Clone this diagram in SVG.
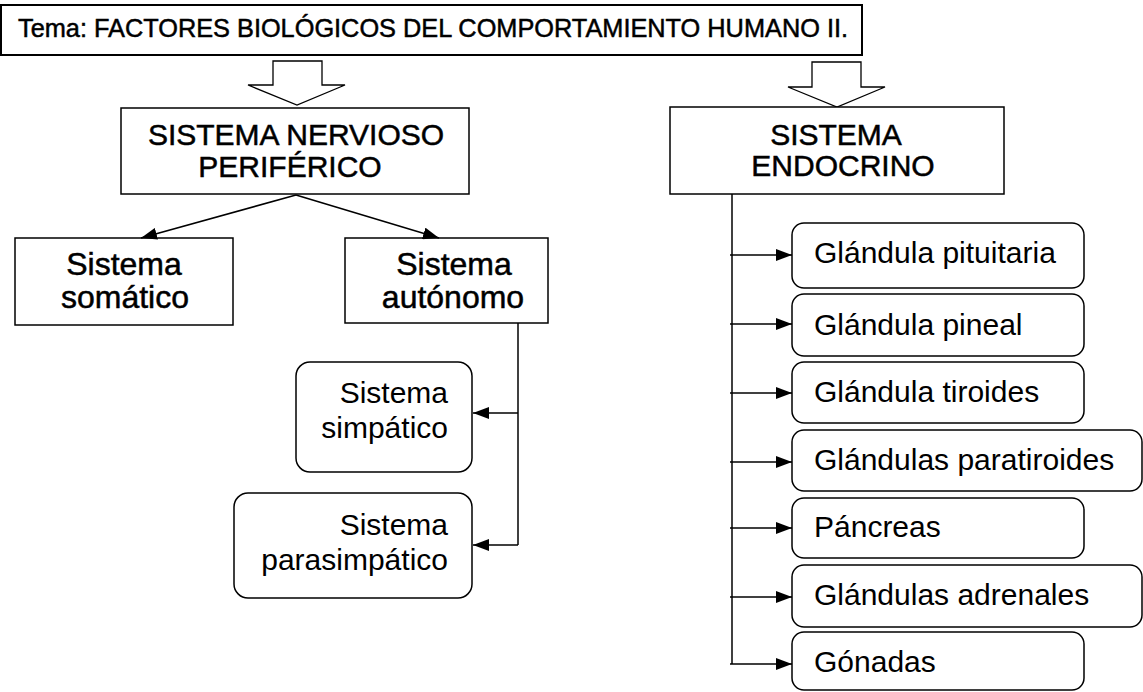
<svg xmlns="http://www.w3.org/2000/svg" width="1143" height="692" viewBox="0 0 1143 692">
<style>
  .box{fill:#fff;stroke:#000;stroke-width:1.5}
  .rbox{fill:#fff;stroke:#000;stroke-width:1.5}
  .t{font-family:"Liberation Sans",Arial,sans-serif;fill:#000}
  .heavy{stroke:#000;stroke-width:0.5}
  .c{text-anchor:middle}
  .e{text-anchor:end}
  .con{fill:none;stroke:#000;stroke-width:1.5}
  .blk{fill:#fff;stroke:#000;stroke-width:1.3}
</style>
<defs>
  <marker id="ah" markerUnits="userSpaceOnUse" markerWidth="16" markerHeight="12" refX="16" refY="6" orient="auto">
    <path d="M0,0 L16,6 L0,12 z" fill="#000"/>
  </marker>
</defs>
<rect width="1143" height="692" fill="#fff"/>

<g id="titulo">
  <rect x="1" y="5" width="861" height="50" fill="#fff" stroke="#000" stroke-width="2"/>
  <text class="t heavy" x="18" y="37" font-size="25.5" textLength="830" lengthAdjust="spacingAndGlyphs">Tema: FACTORES BIOLÓGICOS DEL COMPORTAMIENTO HUMANO II.</text>
</g>

<g id="flecha-bloque-1">
  <polygon class="blk" points="273,61 322,61 322,85 345,85 297,105 248,85 273,85"/>
</g>
<g id="flecha-bloque-2">
  <polygon class="blk" points="812,62 861,62 861,87 885,87 837,107 788,87 812,87"/>
</g>

<g id="snp">
  <rect class="box" x="121" y="108" width="348" height="86"/>
  <text class="t heavy c" x="296" y="145" font-size="30">SISTEMA NERVIOSO</text>
  <text class="t heavy c" x="290" y="177" font-size="30">PERIFÉRICO</text>
</g>

<g id="se">
  <rect class="box" x="670" y="107" width="334" height="87"/>
  <text class="t heavy c" x="836" y="145" font-size="30">SISTEMA</text>
  <text class="t heavy c" x="843" y="176" font-size="30">ENDOCRINO</text>
</g>

<g id="somatico">
  <rect class="box" x="15" y="238" width="218" height="87"/>
  <text class="t heavy c" x="124" y="275" font-size="32">Sistema</text>
  <text class="t heavy c" x="125" y="308" font-size="32">somático</text>
</g>

<g id="autonomo">
  <rect class="box" x="345" y="238" width="203" height="85"/>
  <text class="t heavy c" x="454" y="275" font-size="32">Sistema</text>
  <text class="t heavy c" x="453" y="308" font-size="32">autónomo</text>
</g>

<g id="simpatico">
  <rect class="rbox" x="296" y="362" width="176" height="110" rx="14" ry="14"/>
  <text class="t e" x="448" y="403" font-size="30">Sistema</text>
  <text class="t e" x="448" y="438" font-size="30">simpático</text>
</g>

<g id="parasimpatico">
  <rect class="rbox" x="234" y="493" width="238" height="105" rx="14" ry="14"/>
  <text class="t e" x="448" y="535" font-size="30">Sistema</text>
  <text class="t e" x="448" y="570" font-size="30">parasimpático</text>
</g>

<g id="pituitaria">
  <rect class="rbox" x="792" y="223" width="292" height="65" rx="12" ry="12"/>
  <text class="t" x="814" y="263" font-size="30">Glándula pituitaria</text>
</g>
<g id="pineal">
  <rect class="rbox" x="792" y="294" width="292" height="62" rx="12" ry="12"/>
  <text class="t" x="814" y="335" font-size="30">Glándula pineal</text>
</g>
<g id="tiroides">
  <rect class="rbox" x="792" y="362" width="292" height="61" rx="12" ry="12"/>
  <text class="t" x="814" y="402" font-size="30">Glándula tiroides</text>
</g>
<g id="paratiroides">
  <rect class="rbox" x="792" y="430" width="350" height="61" rx="12" ry="12"/>
  <text class="t" x="814" y="470" font-size="30">Glándulas paratiroides</text>
</g>
<g id="pancreas">
  <rect class="rbox" x="792" y="498" width="292" height="60" rx="12" ry="12"/>
  <text class="t" x="814" y="537" font-size="30">Páncreas</text>
</g>
<g id="adrenales">
  <rect class="rbox" x="792" y="565" width="350" height="62" rx="12" ry="12"/>
  <text class="t" x="814" y="605" font-size="30">Glándulas adrenales</text>
</g>
<g id="gonadas">
  <rect class="rbox" x="792" y="632" width="292" height="58" rx="12" ry="12"/>
  <text class="t" x="814" y="672" font-size="30">Gónadas</text>
</g>

<g id="conectores">
  <line class="con" x1="296" y1="195" x2="141" y2="238" marker-end="url(#ah)"/>
  <line class="con" x1="296" y1="195" x2="439" y2="238" marker-end="url(#ah)"/>
  <polyline class="con" points="518,323 518,545"/>
  <line class="con" x1="518" y1="413" x2="473" y2="413" marker-end="url(#ah)"/>
  <line class="con" x1="518" y1="545" x2="473" y2="545" marker-end="url(#ah)"/>
  <polyline class="con" points="732,194 732,664"/>
  <line class="con" x1="730" y1="255" x2="792" y2="255" marker-end="url(#ah)"/>
  <line class="con" x1="730" y1="324" x2="792" y2="324" marker-end="url(#ah)"/>
  <line class="con" x1="730" y1="393" x2="792" y2="393" marker-end="url(#ah)"/>
  <line class="con" x1="730" y1="462" x2="792" y2="462" marker-end="url(#ah)"/>
  <line class="con" x1="730" y1="528" x2="792" y2="528" marker-end="url(#ah)"/>
  <line class="con" x1="730" y1="597" x2="792" y2="597" marker-end="url(#ah)"/>
  <line class="con" x1="730" y1="664" x2="792" y2="664" marker-end="url(#ah)"/>
</g>
</svg>
